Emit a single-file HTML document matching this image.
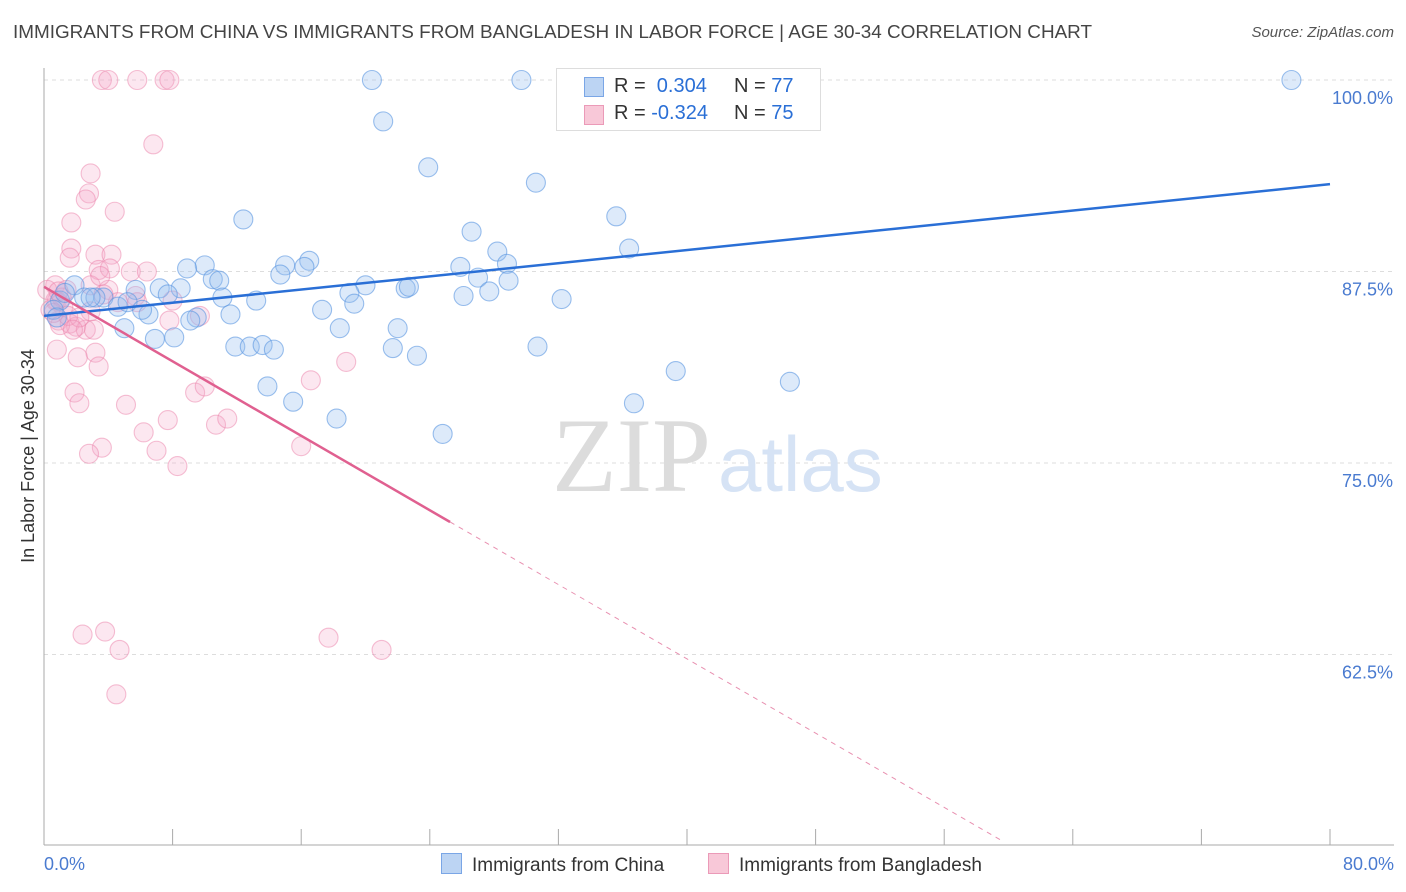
<!DOCTYPE html>
<html><head><meta charset="utf-8"><style>
body{margin:0;background:#fff;font-family:"Liberation Sans",sans-serif;}
#wrap{position:relative;width:1406px;height:892px;overflow:hidden;}
.t{position:absolute;white-space:nowrap;}
</style></head><body>
<div id="wrap">
<div class="t" style="left:13px;top:22px;font-size:18.9px;color:#444;">IMMIGRANTS FROM CHINA VS IMMIGRANTS FROM BANGLADESH IN LABOR FORCE | AGE 30-34 CORRELATION CHART</div>
<div class="t" style="right:12px;top:24px;font-size:15px;color:#555;font-style:italic;">Source: ZipAtlas.com</div>
<svg id="svg" width="1406" height="892" style="position:absolute;left:0;top:0"></svg>
</div>
<script>
const yTicks=[100,87.5,75,62.5];
const yTickLabels=["100.0%","87.5%","75.0%","62.5%"];
const xTickVals=[0,8,16,24,32,40,48,56,64,72,80];
const xEndLabels=["0.0%","80.0%"];
const chinaX=[20.4,29.7,32.9,77.6,21.1,23.9,30.6,35.6,12.4,26.6,36.4,28.2,16.5,15.0,10.0,8.9,16.2,25.9,28.8,14.7,10.5,10.9,27.0,28.9,20.0,7.2,8.5,22.5,22.7,19.0,26.1,27.7,11.1,7.7,5.7,13.2,32.2,3.7,19.3,1.9,2.5,3.2,4.6,5.2,17.3,6.5,11.6,6.1,9.5,9.1,18.4,22.0,5.0,8.1,6.9,11.9,12.8,13.6,14.3,21.7,23.2,30.7,39.3,46.4,13.9,15.5,36.7,18.2,24.8,1.0,0.6,1.3,2.9,0.8];
const chinaY=[100,100,100,100,97.3,94.3,93.3,91.1,90.9,90.1,89.0,88.8,88.2,87.9,87.9,87.7,87.8,87.8,88.0,87.3,87.0,86.9,87.1,86.9,86.6,86.4,86.4,86.4,86.5,86.1,85.9,86.2,85.8,86.0,86.3,85.6,85.7,85.8,85.4,86.6,85.8,85.8,85.2,85.5,85.0,84.7,84.7,85.0,84.5,84.3,83.8,83.8,83.8,83.2,83.1,82.6,82.6,82.7,82.4,82.5,82.0,82.6,81.0,80.3,80.0,79.0,78.9,77.9,76.9,85.6,85.0,86.1,85.8,84.5];
const bangX=[3.6,4.0,5.8,7.5,7.8,6.8,2.9,2.8,2.6,4.4,1.7,1.7,1.6,3.2,4.2,3.4,4.1,5.4,6.4,0.7,1.4,2.9,4.0,3.5,5.7,4.6,5.8,8.0,9.7,7.8,2.9,0.8,1.2,0.9,1.6,2.0,2.6,3.1,1.0,0.8,3.2,3.4,2.1,1.9,2.2,5.1,6.2,7.7,7.0,8.3,3.6,2.8,9.4,10.0,10.7,11.4,16.0,16.6,18.8,2.4,3.8,4.7,4.5,17.7,21.0,0.7,0.4,1.1,1.5,2.2,3.7,0.2,0.6,0.9,1.8];
const bangY=[100,100,100,100,100,95.8,93.9,92.6,92.2,91.4,90.7,89.0,88.4,88.6,88.6,87.6,87.7,87.5,87.5,86.6,86.3,86.6,86.3,87.2,85.9,85.5,85.5,85.6,84.6,84.3,84.9,85.6,85.2,84.3,84.1,83.9,83.7,83.7,84.0,82.4,82.2,81.3,81.9,79.6,78.9,78.8,77.0,77.8,75.8,74.8,76.0,75.6,79.6,80.0,77.5,77.9,76.1,80.4,81.6,63.8,64.0,62.8,59.9,63.6,62.8,85.6,85.0,85.8,84.6,84.5,86.0,86.3,84.8,86.2,83.7];
const chinaTrend=[[0,84.6],[80,93.2]];
const bangTrendSolid=[[0,86.5],[25.26,71.15]];
const bangTrendDash=[[25.26,71.15],[59.5,50.4]];

const X0=44,X1=1330,Y100=80,PXPER=15.32;
const sx=v=>X0+(v/80)*(X1-X0);
const sy=v=>Y100+(100-v)*PXPER;
const svg=document.getElementById('svg');
const NS='http://www.w3.org/2000/svg';
function mk(tag,attrs){const e=document.createElementNS(NS,tag);for(const k in attrs)e.setAttribute(k,attrs[k]);svg.appendChild(e);return e;}

yTicks.forEach((v,i)=>{
  const g=mk('line',{x1:44,x2:1394,y1:sy(v),y2:sy(v),stroke:'#ddd','stroke-dasharray':'4,4'});
  
  
  const t=mk('text',{x:1393,y:sy(v)+24,'text-anchor':'end','font-size':'18',fill:'#4a7bd0','font-family':'Liberation Sans, sans-serif'});
  t.textContent=yTickLabels[i];
  
  
});
const ax=mk('line',{x1:44,x2:44,y1:68,y2:845,stroke:'#aaa'});


const bx=mk('line',{x1:44,x2:1394,y1:845,y2:845,stroke:'#aaa'});


xTickVals.forEach(v=>{
  const t=mk('line',{x1:sx(v),x2:sx(v),y1:829,y2:845,stroke:'#aaa'});
  
  
});
[[0,'start',44],[80,'end',1394]].forEach((a,i)=>{
  const t=mk('text',{x:a[2],y:870,'text-anchor':a[1],'font-size':'18',fill:'#4a7bd0','font-family':'Liberation Sans, sans-serif'});
  t.textContent=xEndLabels[i];
  
  
});
const yl=mk('text',{x:0,y:0,transform:'translate(34,456) rotate(-90)','text-anchor':'middle','font-size':'18',fill:'#333','font-family':'Liberation Sans, sans-serif'});
yl.textContent='In Labor Force | Age 30-34';


const w1=mk('text',{x:552,y:491,'font-size':'106','font-family':'Liberation Serif, serif',fill:'#dcdcdc'});
w1.textContent='ZIP';


const w2=mk('text',{x:718,y:491,'font-size':'78','font-family':'Liberation Sans, sans-serif',fill:'#d6e3f5'});
w2.textContent='atlas';



bangX.forEach((x,i)=>{
  const c=mk('circle',{cx:sx(x),cy:sy(bangY[i]),r:9.5,fill:'rgba(245,170,200,0.28)',stroke:'rgba(235,130,170,0.5)','stroke-width':1.1});
  
  
});
chinaX.forEach((x,i)=>{
  const c=mk('circle',{cx:sx(x),cy:sy(chinaY[i]),r:9.5,fill:'rgba(150,190,240,0.32)',stroke:'rgba(90,150,225,0.6)','stroke-width':1.1});
  
  
});
const l1=mk('line',{x1:sx(chinaTrend[0][0]),y1:sy(chinaTrend[0][1]),x2:sx(chinaTrend[1][0]),y2:sy(chinaTrend[1][1]),stroke:'#2a6fd6','stroke-width':2.5});


const l2=mk('line',{x1:sx(bangTrendSolid[0][0]),y1:sy(bangTrendSolid[0][1]),x2:sx(bangTrendSolid[1][0]),y2:sy(bangTrendSolid[1][1]),stroke:'#e06090','stroke-width':2.5});


const l3=mk('line',{x1:sx(bangTrendDash[0][0]),y1:sy(bangTrendDash[0][1]),x2:sx(bangTrendDash[1][0]),y2:sy(bangTrendDash[1][1]),stroke:'#e890b0','stroke-width':1,'stroke-dasharray':'5,5'});


</script>
<div class="t" style="left:556px;top:68px;width:263px;height:61px;border:1px solid #ddd;background:#fff;font-size:20px;color:#333;">
  <div style="position:absolute;left:27px;top:8px;width:18px;height:18px;background:#bcd4f3;border:1px solid #7aa6e6;"></div>
  <div class="t" style="left:57px;top:6px;">R = <span style="color:#2a6fd6">&nbsp;0.304</span></div>
  <div class="t" style="left:177px;top:6px;">N = <span style="color:#2a6fd6">77</span></div>
  <div style="position:absolute;left:27px;top:36px;width:18px;height:18px;background:#f8c8d8;border:1px solid #eb9ab8;"></div>
  <div class="t" style="left:57px;top:33px;">R = <span style="color:#2a6fd6">-0.324</span></div>
  <div class="t" style="left:177px;top:33px;">N = <span style="color:#2a6fd6">75</span></div>
</div>
<div class="t" style="left:441px;top:853px;font-size:19px;color:#333;">
  <span style="display:inline-block;width:19px;height:19px;background:#bcd4f3;border:1px solid #7aa6e6;vertical-align:-3px;margin-right:10px;"></span>Immigrants from China</div>
<div class="t" style="left:708px;top:853px;font-size:19px;color:#333;">
  <span style="display:inline-block;width:19px;height:19px;background:#f8c8d8;border:1px solid #eb9ab8;vertical-align:-3px;margin-right:10px;"></span>Immigrants from Bangladesh</div>
</body></html>
